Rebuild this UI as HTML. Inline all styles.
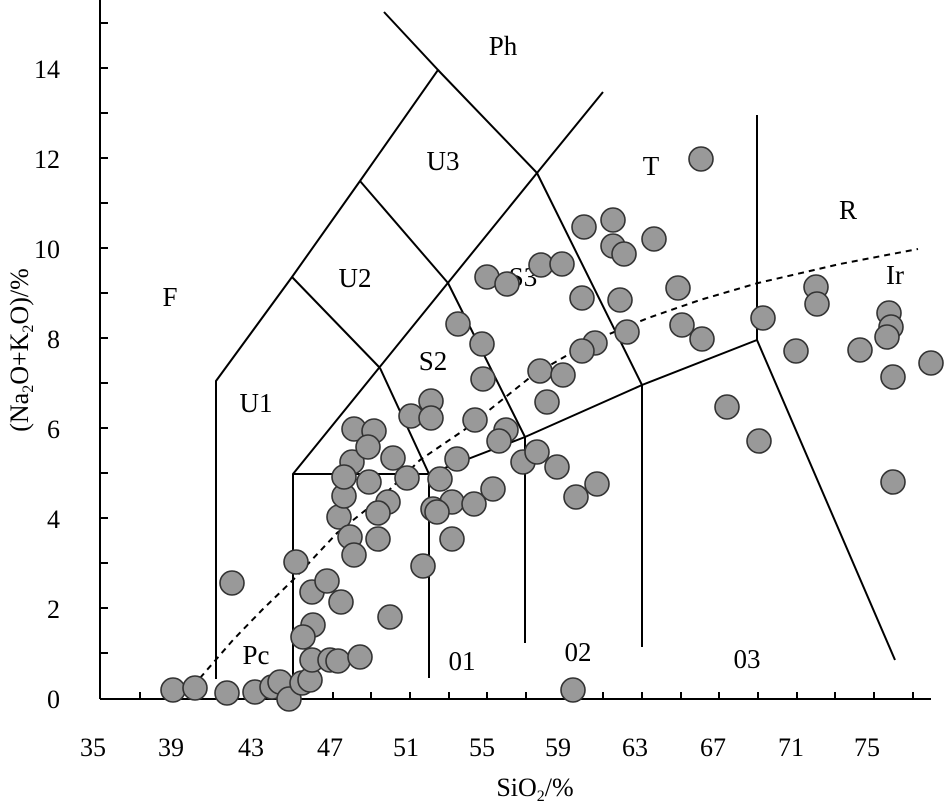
<!DOCTYPE html>
<html><head><meta charset="utf-8"><style>
html,body{margin:0;padding:0;background:#fff;}
svg{display:block;}
text{font-family:"Liberation Serif",serif;fill:#000;}
</style></head><body>
<svg width="944" height="805" viewBox="0 0 944 805" xmlns="http://www.w3.org/2000/svg">
<g stroke="#000" stroke-width="2" fill="none">
<line x1="100" y1="0" x2="100" y2="699"/>
<line x1="100" y1="699" x2="931" y2="699"/>
<path d="M100 23h8M100 68h8M100 113h8M100 158h8M100 203h8M100 248h8M100 293h8M100 338h8M100 383h8M100 428h8M100 473h8M100 518h8M100 563h8M100 608h8M100 653h8"/>
<path d="M140 699v-7M178 699v-7M217 699v-7M256 699v-7M294 699v-7M333 699v-7M371 699v-7M410 699v-7M449 699v-7M487 699v-7M526 699v-7M565 699v-7M603 699v-7M642 699v-7M681 699v-7M719 699v-7M758 699v-7M797 699v-7M835 699v-7M874 699v-7M913 699v-7"/>
<polyline points="216,679 216,381 292,277 360,181 438,70 384,12"/>
<polyline points="438,70 537,173 603,92"/>
<line x1="292" y1="277" x2="380" y2="368"/>
<line x1="360" y1="181" x2="448" y2="283"/>
<polyline points="293,683 293,474 537,173"/>
<line x1="293" y1="474" x2="429" y2="474"/>
<polyline points="380,368 429,474 429,678"/>
<polyline points="448,283 525,437 525,643"/>
<polyline points="537,173 642,385 642,647"/>
<polyline points="429,474 525,437 642,385 757,340 895,660"/>
<line x1="757" y1="115" x2="757" y2="340"/>
</g>
<path d="M200,678 L233,640 L262,610 L293,580 L337,533 L382,497 L420,460 L467,428 L533,375 L590,342 L648,318 L700,300 L758,283 L840,264 L918,249" fill="none" stroke="#000" stroke-width="2" stroke-dasharray="6,5"/>
<g font-size="27" text-anchor="middle">
<text x="170" y="306">F</text>
<text x="256" y="412">U1</text>
<text x="355" y="287">U2</text>
<text x="443" y="170">U3</text>
<text x="503" y="55">Ph</text>
<text x="433" y="370">S2</text>
<text x="523" y="286">S3</text>
<text x="651" y="175">T</text>
<text x="848" y="219">R</text>
<text x="895" y="284">Ir</text>
<text x="256" y="664">Pc</text>
<text x="462" y="670">01</text>
<text x="578" y="661">02</text>
<text x="747" y="668">03</text>
</g>
<g fill="#999" stroke="#333" stroke-width="1.6">
<circle cx="232" cy="583" r="12"/><circle cx="173" cy="690" r="12"/><circle cx="195" cy="688" r="12"/><circle cx="227" cy="693" r="12"/><circle cx="255" cy="692" r="12"/><circle cx="272" cy="687" r="12"/><circle cx="280" cy="682" r="12"/><circle cx="289" cy="699" r="12"/><circle cx="302" cy="683" r="12"/><circle cx="310" cy="680" r="12"/>
<circle cx="313" cy="625" r="12"/><circle cx="303" cy="637" r="12"/><circle cx="312" cy="660" r="12"/><circle cx="330" cy="660" r="12"/><circle cx="338" cy="661" r="12"/><circle cx="360" cy="657" r="12"/><circle cx="390" cy="617" r="12"/>
<circle cx="296" cy="562" r="12"/><circle cx="312" cy="592" r="12"/><circle cx="327" cy="581" r="12"/><circle cx="341" cy="602" r="12"/><circle cx="423" cy="566" r="12"/>
<circle cx="339" cy="517" r="12"/><circle cx="350" cy="537" r="12"/><circle cx="378" cy="539" r="12"/><circle cx="354" cy="555" r="12"/><circle cx="452" cy="539" r="12"/>
<circle cx="344" cy="496" r="12"/><circle cx="388" cy="502" r="12"/><circle cx="378" cy="513" r="12"/><circle cx="452" cy="502" r="12"/><circle cx="474" cy="504" r="12"/><circle cx="493" cy="489" r="12"/><circle cx="433" cy="509" r="12"/><circle cx="437" cy="512" r="12"/>
<circle cx="352" cy="462" r="12"/><circle cx="344" cy="477" r="12"/><circle cx="369" cy="482" r="12"/><circle cx="407" cy="478" r="12"/><circle cx="440" cy="479" r="12"/>
<circle cx="354" cy="429" r="12"/><circle cx="374" cy="431" r="12"/><circle cx="368" cy="447" r="12"/><circle cx="393" cy="458" r="12"/><circle cx="457" cy="459" r="12"/>
<circle cx="431" cy="401" r="12"/><circle cx="411" cy="416" r="12"/><circle cx="431" cy="418" r="12"/><circle cx="475" cy="420" r="12"/><circle cx="506" cy="430" r="12"/><circle cx="499" cy="441" r="12"/>
<circle cx="458" cy="324" r="12"/><circle cx="482" cy="344" r="12"/><circle cx="483" cy="379" r="12"/>
<circle cx="523" cy="462" r="12"/><circle cx="537" cy="452" r="12"/><circle cx="557" cy="467" r="12"/><circle cx="576" cy="497" r="12"/><circle cx="597" cy="484" r="12"/><circle cx="573" cy="690" r="12"/>
<circle cx="487" cy="277" r="12"/><circle cx="507" cy="284" r="12"/><circle cx="541" cy="265" r="12"/><circle cx="562" cy="264" r="12"/><circle cx="582" cy="298" r="12"/><circle cx="620" cy="300" r="12"/><circle cx="627" cy="332" r="12"/><circle cx="595" cy="343" r="12"/><circle cx="582" cy="351" r="12"/><circle cx="540" cy="371" r="12"/><circle cx="563" cy="375" r="12"/><circle cx="547" cy="402" r="12"/>
<circle cx="584" cy="227" r="12"/><circle cx="613" cy="220" r="12"/><circle cx="613" cy="246" r="12"/><circle cx="624" cy="254" r="12"/><circle cx="654" cy="239" r="12"/><circle cx="701" cy="159" r="12"/><circle cx="678" cy="288" r="12"/><circle cx="682" cy="325" r="12"/><circle cx="702" cy="339" r="12"/>
<circle cx="763" cy="318" r="12"/><circle cx="816" cy="287" r="12"/><circle cx="817" cy="304" r="12"/><circle cx="796" cy="351" r="12"/><circle cx="860" cy="350" r="12"/><circle cx="889" cy="313" r="12"/><circle cx="891" cy="327" r="12"/><circle cx="887" cy="337" r="12"/><circle cx="931" cy="363" r="12"/><circle cx="893" cy="377" r="12"/><circle cx="727" cy="407" r="12"/><circle cx="759" cy="441" r="12"/><circle cx="893" cy="482" r="12"/>
</g>
<g font-size="26" text-anchor="end">
<text x="60" y="708">0</text><text x="60" y="618">2</text><text x="60" y="528">4</text><text x="60" y="438">6</text><text x="60" y="348">8</text><text x="60" y="258">10</text><text x="60" y="168">12</text><text x="60" y="78">14</text>
</g>
<g font-size="26" text-anchor="middle">
<text x="93" y="756">35</text><text x="171" y="756">39</text><text x="251" y="756">43</text><text x="330" y="756">47</text><text x="406" y="756">51</text><text x="482" y="756">55</text><text x="558" y="756">59</text><text x="635" y="756">63</text><text x="713" y="756">67</text><text x="791" y="756">71</text><text x="867" y="756">75</text>
<text x="535" y="796">SiO<tspan font-size="16" dy="5">2</tspan><tspan dy="-5">/%</tspan></text>
</g>
<text font-size="26" text-anchor="middle" transform="translate(28,350) rotate(-90)">(Na<tspan font-size="16" dy="5">2</tspan><tspan dy="-5">O+K</tspan><tspan font-size="16" dy="5">2</tspan><tspan dy="-5">O)/%</tspan></text>
</svg>
</body></html>
